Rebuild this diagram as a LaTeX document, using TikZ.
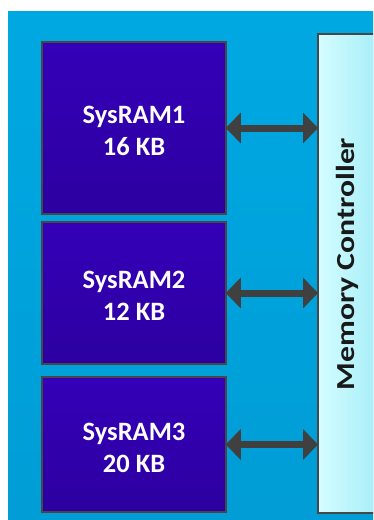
\documentclass[tikz,border=0pt]{standalone}
\usepackage{fontspec}
\setmainfont{Carlito}
\usetikzlibrary{arrows.meta,calc}
\definecolor{bgblue}{HTML}{00A8E2}
\definecolor{bgblue2}{HTML}{009DD6}
\definecolor{ramtop}{HTML}{3500B8}
\definecolor{rambot}{HTML}{2C00A0}
\definecolor{ctrlL}{HTML}{D4FDFF}
\definecolor{ctrlR}{HTML}{A8EEF8}
\definecolor{edge}{HTML}{474747}
\definecolor{arr}{HTML}{404040}
\tikzset{
  rambox/.style={draw=edge, line width=1.5pt, top color=ramtop, bottom color=rambot,
    minimum width=184pt, text=white, font=\bfseries\fontsize{26.5}{32}\selectfont,
    align=center, inner sep=0pt},
  ctrlbox/.style={draw=edge, line width=2pt, left color=ctrlL, right color=ctrlR,
    minimum width=58pt, minimum height=479pt, inner sep=0pt},
  busarrow/.style={draw=arr, line width=7pt, {Triangle[length=15pt,width=30pt]}-{Triangle[length=15pt,width=30pt]}, shorten <=-1pt, shorten >=-1pt}
}
\begin{document}
\begin{tikzpicture}[x=1pt,y=-1pt]
\useasboundingbox (0,0) rectangle (373,520);
\clip (0,0) rectangle (373,520);
\fill[white] (0,0) rectangle (373,520);
\shade[top color=bgblue, bottom color=bgblue2] (8,11) rectangle (373,520);
\node[rambox, minimum height=172pt] (r1) at (134,128) {};
\node[rambox, minimum height=142pt] (r2) at (134,293) {};
\node[rambox, minimum height=135pt] (r3) at (134,444.5) {};
\node[align=center, text=white, font=\bfseries\fontsize{26.5}{32}\selectfont] (t1) at (134,131) {SysRAM1\\16 KB};
\node[align=center, text=white, font=\bfseries\fontsize{26.5}{32}\selectfont] (t2) at (134,296) {SysRAM2\\12 KB};
\node[align=center, text=white, font=\bfseries\fontsize{26.5}{32}\selectfont] (t3) at (134,448) {SysRAM3\\20 KB};
\node[ctrlbox] (mc) at (347,273) {};
\node[rotate=90, font=\bfseries\fontsize{26}{30}\selectfont, text=black!90] (mct) at (347,264) {\scalebox{1.22}[1]{Memory Controller}};
\draw[busarrow] (r1.east) -- (r1.east -| mc.west);
\draw[busarrow] (r2.east) -- (r2.east -| mc.west);
\draw[busarrow] (r3.east) -- (r3.east -| mc.west);
\end{tikzpicture}
\end{document}
